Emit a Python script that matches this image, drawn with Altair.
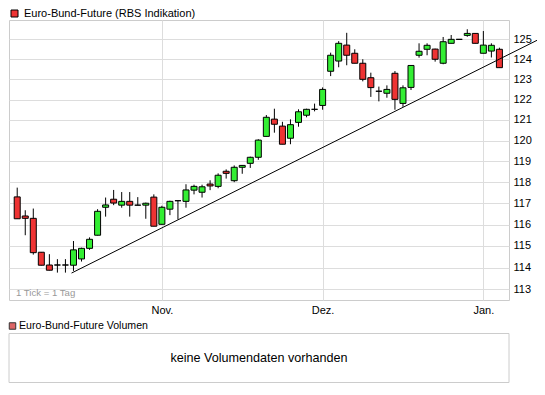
import altair as alt
import pandas as pd
import numpy as np

TITLE = "Euro-Bund-Future (RBS Indikation)"
VOL_TITLE = "Euro-Bund-Future Volumen"
NO_DATA = "keine Volumendaten vorhanden"
TICK_NOTE = "1 Tick = 1 Tag"

# daily candles (trading days, Oct 2008 - Jan 2009)
open_ = [117.30, 116.40, 116.29, 114.71, 114.12, 114.12, 114.12, 114.11, 114.40, 114.89,
         115.50, 116.81, 117.19, 116.91, 117.09, 116.91, 116.91, 117.29, 116.01, 116.72,
         117.12, 117.09, 117.62, 117.52, 117.91, 117.80, 118.52, 118.07, 118.71, 118.90,
         119.19, 120.20, 121.04, 120.70, 120.11, 120.88, 121.23, 121.52, 121.71, 123.40,
         123.91, 124.71, 124.30, 123.80, 123.08, 122.41, 122.31, 123.30, 121.81, 122.60,
         124.20, 124.50, 124.51, 123.80, 124.80, 125.00, 125.20, 125.30, 124.30, 124.41,
         124.50]
high = [117.74, 116.67, 116.75, 114.72, 114.62, 114.39, 114.39, 115.23, 114.92, 115.40,
        116.72, 117.27, 117.63, 117.53, 117.53, 117.29, 117.03, 117.42, 116.88, 117.12,
        117.12, 117.90, 117.88, 117.88, 118.09, 118.42, 118.61, 118.80, 118.82, 119.22,
        120.06, 121.24, 121.55, 120.91, 121.03, 121.52, 121.55, 121.80, 122.60, 124.33,
        124.91, 125.33, 124.50, 124.00, 123.33, 122.64, 122.70, 123.41, 122.70, 123.71,
        124.80, 124.80, 124.53, 125.12, 125.22, 125.00, 125.51, 125.30, 125.42, 124.80,
        124.58]
low = [116.27, 115.50, 114.60, 114.10, 113.87, 113.77, 113.77, 113.85, 114.28, 114.82,
       115.49, 116.37, 116.91, 116.79, 116.37, 116.91, 116.27, 115.92, 116.00, 116.44,
       116.24, 116.79, 117.42, 117.27, 117.62, 117.71, 118.17, 118.00, 118.40, 118.68,
       119.07, 120.19, 120.38, 119.82, 119.82, 120.67, 121.13, 121.42, 121.50, 123.16,
       123.60, 123.70, 123.80, 122.90, 122.13, 121.91, 122.09, 121.50, 121.64, 122.47,
       124.08, 124.20, 123.88, 123.75, 124.80, 125.00, 125.13, 124.80, 124.30, 124.09,
       123.58]
close = [116.27, 116.29, 114.69, 114.11, 113.88, 114.12, 114.12, 114.82, 114.89, 115.31,
         116.62, 116.92, 117.01, 117.09, 116.91, 116.91, 117.00, 115.92, 116.81, 117.09,
         117.12, 117.63, 117.80, 117.78, 117.82, 118.33, 118.42, 118.71, 118.80, 119.19,
         120.02, 121.13, 120.79, 119.82, 120.77, 121.40, 121.52, 121.52, 122.50, 124.20,
         124.80, 124.20, 123.80, 123.00, 122.59, 122.41, 122.50, 122.01, 122.58, 123.69,
         124.40, 124.70, 124.00, 124.88, 125.00, 125.00, 125.30, 124.80, 124.71, 124.70,
         123.58]

month_labels = ["Nov.", "Dez.", "Jan."]
month_pos = [18, 38, 58]
price_ticks = [113, 114, 115, 116, 117, 118, 119, 120, 121, 122, 123, 124, 125]

trend_x = [6.76, 64.72]
trend_y = [113.75, 124.96]

RED = "#ee3333"
GREEN = "#33ee33"
FONT = "Liberation Sans"

df = pd.DataFrame({"tag": list(range(len(open_))), "open": open_, "high": high,
                   "low": low, "close": close})
df["richtung"] = np.where(df["close"] < df["open"], "fallend", "steigend")

trend_df = pd.DataFrame({"x": trend_x, "y": trend_y})

x_scale = alt.Scale(domain=[-0.4, 60.57], nice=False, zero=False)
y_scale = alt.Scale(type="log", domain=[112.52, 125.98], nice=False)

label_expr = " : ".join(
    f"datum.value == {p} ? '{l}'" for p, l in zip(month_pos, month_labels)
) + " : ''"

x_axis = alt.Axis(values=month_pos, labelExpr=label_expr, title=None, grid=True,
                  ticks=False, domain=False, labelPadding=4)
y_axis = alt.Axis(values=price_ticks, format="d", orient="right", title=None,
                  grid=True, ticks=False, domain=False, labelPadding=4)

wicks = alt.Chart(df).mark_rule(color="black", strokeWidth=1).encode(
    x=alt.X("tag:Q", scale=x_scale, axis=x_axis),
    y=alt.Y("low:Q", scale=y_scale, axis=y_axis),
    y2="high:Q",
)

bodies = alt.Chart(df).mark_bar(size=6, stroke="black", strokeWidth=1, opacity=1).encode(
    x=alt.X("tag:Q", scale=x_scale),
    y=alt.Y("open:Q", scale=y_scale),
    y2="close:Q",
    color=alt.Color(
        "richtung:N",
        scale=alt.Scale(domain=["fallend", "steigend"], range=[RED, GREEN]),
        legend=alt.Legend(
            values=["fallend"], labelExpr=f"'{TITLE}'", title=None,
            orient="none", legendX=0, legendY=-12, padding=0,
            symbolType="square", symbolSize=49, symbolStrokeColor="black",
            symbolStrokeWidth=1, symbolFillColor=RED, labelFont=FONT,
            labelFontSize=11, labelColor="black", labelOffset=4, labelLimit=400,
        ),
    ),
)

trend = alt.Chart(trend_df).mark_line(color="black", strokeWidth=1, clip=False).encode(
    x=alt.X("x:Q", scale=x_scale),
    y=alt.Y("y:Q", scale=y_scale),
)

note = alt.Chart(pd.DataFrame({"t": [TICK_NOTE]})).mark_text(
    align="left", baseline="alphabetic", fontSize=9.6, color="#999999", font=FONT
).encode(x=alt.value(7), y=alt.value(276), text="t:N")

vol_box = alt.Chart(pd.DataFrame({"a": [0]})).mark_rect(
    fill="white", stroke="#cccccc", strokeWidth=1, clip=False
).encode(x=alt.value(0), x2=alt.value(500), y=alt.value(313.5), y2=alt.value(362.5))

vol_sq = alt.Chart(pd.DataFrame({"a": [0]})).mark_square(
    size=42, fill="#dd6666", stroke="#333333", strokeWidth=1, opacity=1, clip=False
).encode(x=alt.value(3.5), y=alt.value(306))

vol_title = alt.Chart(pd.DataFrame({"t": [VOL_TITLE]})).mark_text(
    align="left", baseline="middle", fontSize=10.6, color="black", font=FONT, clip=False
).encode(x=alt.value(10), y=alt.value(306), text="t:N")

no_data = alt.Chart(pd.DataFrame({"t": [NO_DATA]})).mark_text(
    align="center", baseline="middle", fontSize=12.6, color="black", font=FONT, clip=False
).encode(x=alt.value(250), y=alt.value(338), text="t:N")

chart = alt.layer(wicks, bodies, trend, note, vol_box, vol_sq, vol_title, no_data).properties(
    width=500, height=280,
    autosize=alt.AutoSizeParams(type="none"),
    padding={"left": 1, "top": 12, "right": 28, "bottom": 84},
    background="white",
).configure_view(stroke="#cccccc", strokeWidth=1).configure_axis(
    labelFont=FONT, labelFontSize=11, labelColor="black", gridColor="#dddddd", gridWidth=1
)

chart.save("out.html", embed_options={"renderer": "svg", "actions": False})
